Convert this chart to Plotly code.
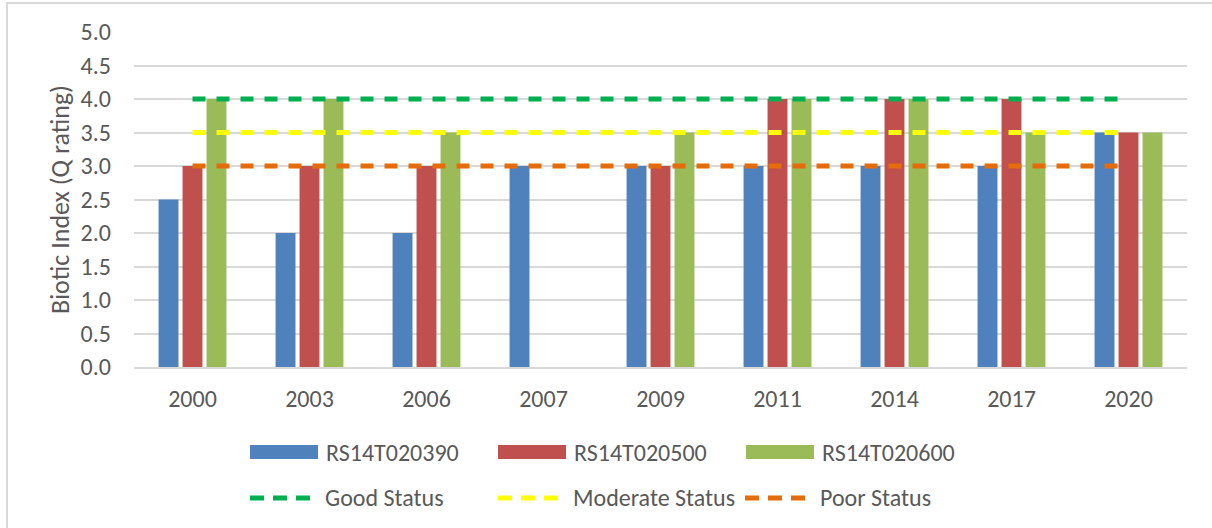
import plotly.graph_objects as go

# Survey years (category axis)
years = ["2000", "2003", "2006", "2007", "2009", "2011", "2014", "2017", "2020"]

# Q-rating per monitoring station
rs14t020390 = [2.5, 2.0, 2.0, 3.0, 3.0, 3.0, 3.0, 3.0, 3.5]
rs14t020500 = [3.0, 3.0, 3.0, None, 3.0, 4.0, 4.0, 4.0, 3.5]
rs14t020600 = [4.0, 4.0, 3.5, None, 3.5, 4.0, 4.0, 3.5, 3.5]

# Status thresholds
good_status = [4.0] * len(years)
moderate_status = [3.5] * len(years)
poor_status = [3.0] * len(years)

y_ticks = [0.0, 0.5, 1.0, 1.5, 2.0, 2.5, 3.0, 3.5, 4.0, 4.5, 5.0]

bar_series = [
    ("RS14T020390", rs14t020390, "#4F81BD"),
    ("RS14T020500", rs14t020500, "#C0504D"),
    ("RS14T020600", rs14t020600, "#9BBB59"),
]
line_series = [
    ("Good Status", good_status, "#00B050"),
    ("Moderate Status", moderate_status, "#FFFF00"),
    ("Poor Status", poor_status, "#E46C0A"),
]

FONT = "Carlito, Calibri, Lato"
FS = 24
TXT = "#595959"
GRID = "#D9D9D9"
DASH = "13px,11px"

fig = go.Figure()
for name, vals, col in bar_series:
    fig.add_trace(go.Bar(x=years, y=vals, name=name, marker_color=col,
                         marker_line_width=0, showlegend=False))
for name, vals, col in line_series:
    fig.add_trace(go.Scatter(x=years, y=vals, name=name, mode="lines",
                             line=dict(color=col, width=5, dash=DASH),
                             showlegend=False))

# Plot-area geometry in pixels (for placing the custom legend and frame)
W, H = 1212, 528
L, R, T, B = 134, 25, 32, 161
PW, PH = W - L - R, H - T - B


def px(xp):
    return (xp - L) / PW


def py(yp):
    return (H - B - yp) / PH


shapes = []
annotations = []

# Outer chart frame
shapes.append(dict(type="rect", xref="paper", yref="paper",
                   x0=px(7), x1=px(W + 10), y0=py(H + 10), y1=py(3),
                   line=dict(color=GRID, width=2), fillcolor="rgba(0,0,0,0)",
                   layer="below"))

# Y-axis title
annotations.append(dict(text="Biotic Index (Q rating)", xref="paper",
                        yref="paper", x=px(60), y=py(200), textangle=-90,
                        xanchor="center", yanchor="middle", showarrow=False,
                        font=dict(family=FONT, size=26, color=TXT)))

# Legend row 1: bar swatches
col_x = [250, 498, 746]
for (name, _, col), x0 in zip(bar_series, col_x):
    shapes.append(dict(type="rect", xref="paper", yref="paper",
                       x0=px(x0), x1=px(x0 + 68), y0=py(459), y1=py(445),
                       fillcolor=col, line=dict(width=0)))
    annotations.append(dict(text=name, xref="paper", yref="paper",
                            x=px(x0 + 74), y=py(452), xanchor="left",
                            yanchor="middle", showarrow=False,
                            font=dict(family=FONT, size=FS, color=TXT)))

# Legend row 2: dashed threshold lines
col_x2 = [248, 496, 743]
for (name, _, col), x0 in zip(line_series, col_x2):
    shapes.append(dict(type="line", xref="paper", yref="paper",
                       x0=px(x0 + 2), x1=px(x0 + 64), y0=py(498), y1=py(498),
                       line=dict(color=col, width=5, dash="14px,9px")))
    annotations.append(dict(text=name, xref="paper", yref="paper",
                            x=px(x0 + 75), y=py(497), xanchor="left",
                            yanchor="middle", showarrow=False,
                            font=dict(family=FONT, size=FS, color=TXT)))

fig.update_layout(
    width=W, height=H,
    margin=dict(l=L, r=R, t=T, b=B),
    paper_bgcolor="white", plot_bgcolor="white",
    barmode="group", bargap=0.385, bargroupgap=0.17,
    font=dict(family=FONT, size=FS, color=TXT),
    shapes=shapes, annotations=annotations,
    showlegend=False,
)
fig.update_xaxes(type="category", showgrid=False, showline=True,
                 linecolor=GRID, linewidth=2, ticks="",
                 tickfont=dict(family=FONT, size=FS, color=TXT),
                 ticklabelstandoff=9)
fig.update_yaxes(range=[0, 5.0], tickvals=y_ticks,
                 ticktext=[f"{v:.1f}" for v in y_ticks],
                 showgrid=True, gridcolor=GRID, gridwidth=2,
                 zeroline=False, showline=False, ticks="",
                 tickfont=dict(family=FONT, size=FS, color=TXT),
                 ticklabelstandoff=22)

fig.write_html("out.html")
